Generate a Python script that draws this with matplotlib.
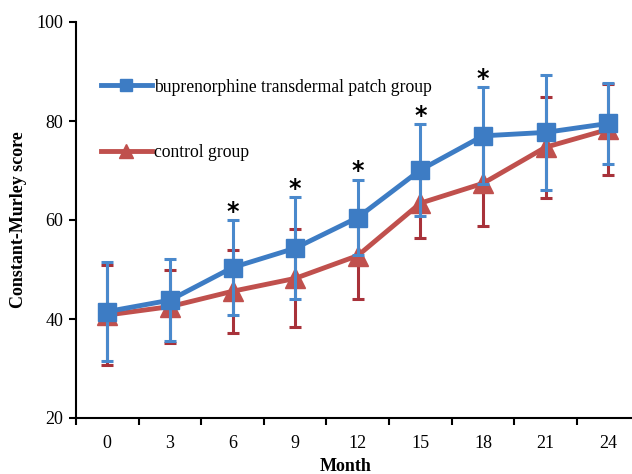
import matplotlib.pyplot as plt
from matplotlib.lines import Line2D

months = ["0", "3", "6", "9", "12", "15", "18", "21", "24"]

patch_mean = [41.5, 43.8, 50.4, 54.3, 60.5, 70.1, 77.0, 77.7, 79.5]
patch_sd = [10.0, 8.3, 9.5, 10.3, 7.6, 9.3, 9.8, 11.6, 8.2]

control_mean = [40.8, 42.5, 45.6, 48.2, 52.8, 63.4, 67.4, 74.7, 78.3]
control_sd = [10.1, 7.3, 8.4, 9.9, 8.8, 7.1, 8.6, 10.2, 9.2]

# months with significant difference (marked with *)
significant = ["6", "9", "12", "15", "18"]

blue = "#3d7cc4"
blue_err = "#4a89cc"
red = "#c0504d"
red_err = "#a8323a"

plt.rcParams['font.family'] = ['Liberation Serif', 'DejaVu Serif']

fig = plt.figure(figsize=(6.32, 4.74), dpi=100)
ax = fig.add_axes([76 / 632, 56 / 474, 556 / 632, 396 / 474])

x = list(range(len(months)))

ax.errorbar(x, control_mean, yerr=control_sd, color=red, ecolor=red_err,
            elinewidth=2.2, capsize=4.5, capthick=2.2, lw=3.5, marker="^",
            markersize=15, zorder=2)
ax.errorbar(x, patch_mean, yerr=patch_sd, color=blue, ecolor=blue_err,
            elinewidth=2.2, capsize=4.5, capthick=2.2, lw=3.5, marker="s",
            markersize=13, zorder=3)

for i, m in enumerate(months):
    if m in significant:
        ax.text(i, patch_mean[i] + patch_sd[i] + 1.7, "*", ha="center", va="center",
                fontsize=17, fontweight="bold", family="DejaVu Sans")

handles = [
    Line2D([], [], color=blue, lw=3.5, marker="s", markersize=9),
    Line2D([], [], color=red, lw=3.5, marker="^", markersize=10),
]
labels = ["buprenorphine transdermal patch group", "control group"]
ax.legend(handles, labels, loc="upper left", bbox_to_anchor=(0.032, 0.875),
          frameon=False, fontsize=12.7, labelspacing=2.75, handlelength=2.9,
          handletextpad=0.1, borderaxespad=0)

ax.set_ylim(20, 100)
ax.set_yticks([20, 40, 60, 80, 100])
ax.set_xlim(-0.5, 8.38)
ax.set_xticks(x)
ax.set_xticklabels(months)
ax.set_xticks([k - 0.5 for k in range(len(months))], minor=True)
ax.tick_params(axis="x", which="major", length=0, pad=12, labelsize=13)
ax.tick_params(axis="x", which="minor", length=5, width=1.5, direction="out")
ax.tick_params(axis="y", length=5, width=1.5, labelsize=13, pad=4)

for side in ["top", "right"]:
    ax.spines[side].set_visible(False)
ax.spines["left"].set_linewidth(1.5)
ax.spines["bottom"].set_linewidth(1.5)

ax.set_ylabel("Constant-Murley score", fontsize=13, fontweight="bold", labelpad=7)
ax.set_xlabel("Month", fontsize=13, fontweight="bold")
ax.xaxis.set_label_coords(270 / 556, -0.1)

fig.savefig("out.png", dpi=100)
